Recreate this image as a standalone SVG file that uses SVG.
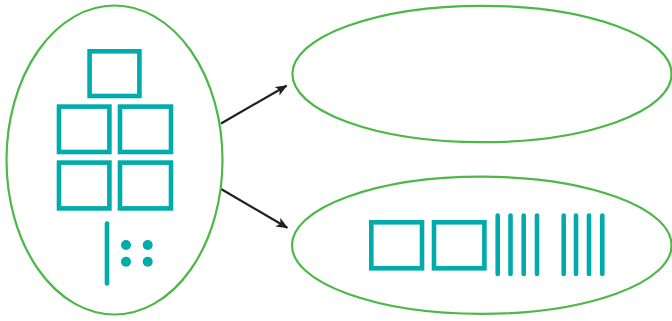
<svg xmlns="http://www.w3.org/2000/svg" width="672" height="321" viewBox="0 0 672 321">
<style>
.oval{fill:none;stroke:#4cb848;stroke-width:2.2}
.sq{fill:none;stroke:#00abab;stroke-width:4.6}
.bar{stroke:#00abab;stroke-width:4.6;stroke-linecap:round}
.dot{fill:#00abab}
.conn{stroke:#231f20;stroke-width:2.2;fill:none}
</style>
<defs>
<marker id="ah" viewBox="0 0 12 10" refX="11" refY="5" markerWidth="12" markerHeight="10" markerUnits="userSpaceOnUse" orient="auto">
<path d="M0,0 L12,5 L0,10 L3,5 Z" fill="#231f20"/>
</marker>
</defs>
<g id="node-left">
<ellipse class="oval" cx="114.5" cy="160" rx="108" ry="154.5"/>
<rect class="sq" x="89.6" y="51.3" width="49.8" height="44.7"/>
<rect class="sq" x="59" y="106.6" width="50.4" height="45.4"/>
<rect class="sq" x="120" y="106.6" width="51" height="45.4"/>
<rect class="sq" x="59" y="162.6" width="50.4" height="45.8"/>
<rect class="sq" x="120" y="162.6" width="51" height="45.8"/>
<line class="bar" x1="107" y1="223.5" x2="107" y2="283.5"/>
<circle class="dot" cx="126" cy="245" r="5"/>
<circle class="dot" cx="147.7" cy="245" r="5"/>
<circle class="dot" cx="126" cy="261.7" r="5"/>
<circle class="dot" cx="147.7" cy="261.7" r="5"/>
</g>
<g id="node-top-right">
<ellipse class="oval" cx="482" cy="74" rx="189.6" ry="68.2"/>
</g>
<g id="node-bottom-right">
<ellipse class="oval" cx="481.8" cy="245.3" rx="189.8" ry="68.6"/>
<rect class="sq" x="371.3" y="222.3" width="50.7" height="46"/>
<rect class="sq" x="434" y="222.3" width="50.4" height="46"/>
<line class="bar" x1="497.7" y1="215.5" x2="497.7" y2="274"/>
<line class="bar" x1="510.5" y1="215.5" x2="510.5" y2="274"/>
<line class="bar" x1="523.7" y1="215.5" x2="523.7" y2="274"/>
<line class="bar" x1="537" y1="215.5" x2="537" y2="274"/>
<line class="bar" x1="563.7" y1="215.5" x2="563.7" y2="274"/>
<line class="bar" x1="576" y1="215.5" x2="576" y2="274"/>
<line class="bar" x1="589" y1="215.5" x2="589" y2="274"/>
<line class="bar" x1="602.3" y1="215.5" x2="602.3" y2="274"/>
</g>
<g id="connectors">
<line class="conn" x1="221" y1="123.5" x2="286.5" y2="85.8" marker-end="url(#ah)"/>
<line class="conn" x1="221.5" y1="189.3" x2="287.3" y2="227.7" marker-end="url(#ah)"/>
</g>
</svg>
